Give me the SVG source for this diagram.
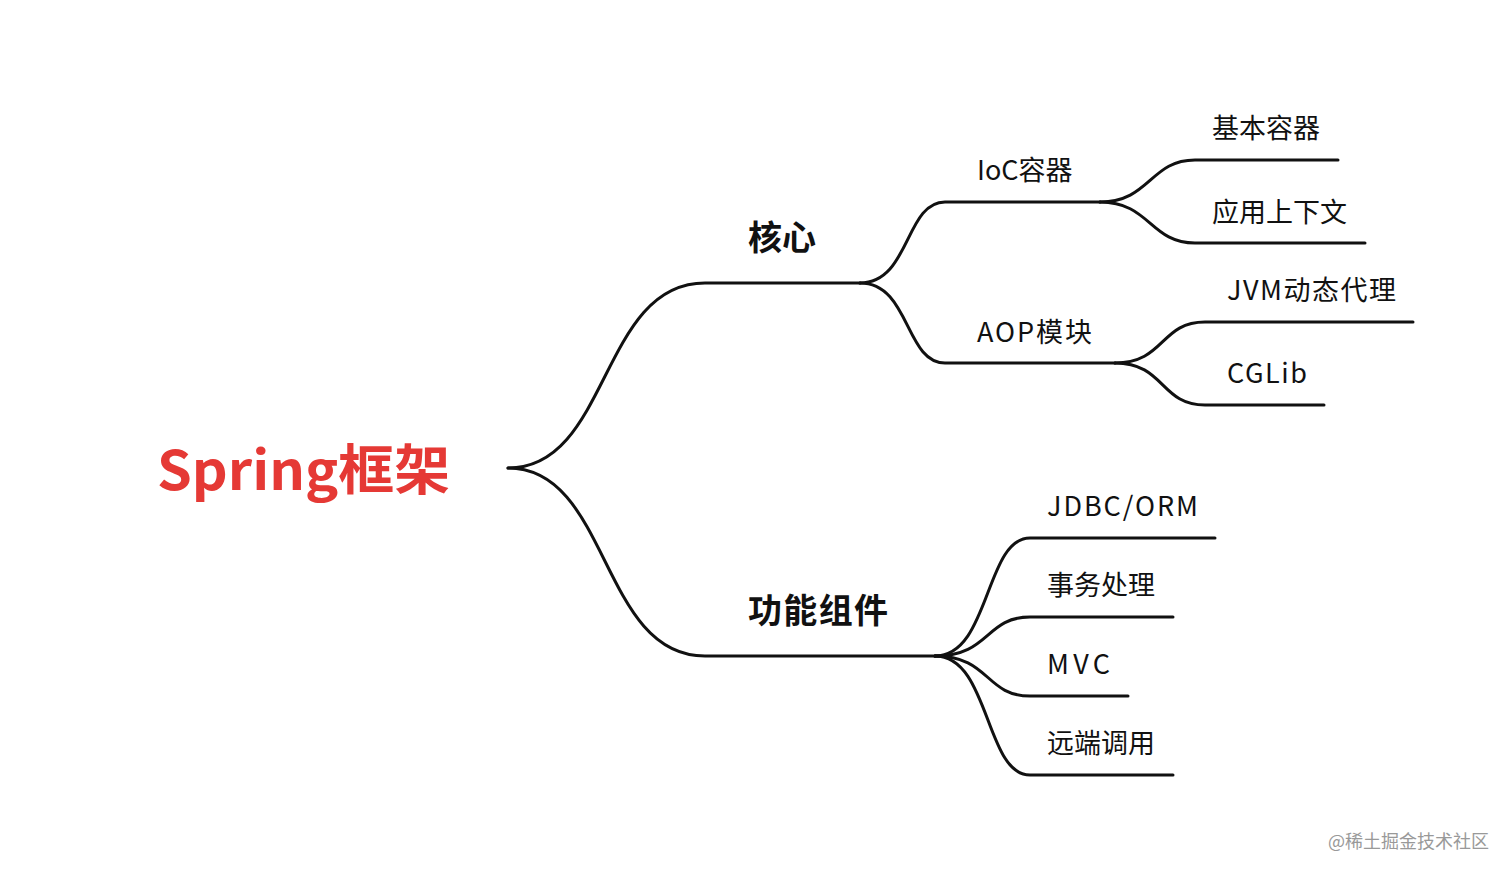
<svg xmlns="http://www.w3.org/2000/svg" width="1512" height="876" viewBox="0 0 1512 876">
<style>
.l{fill:none;stroke:#111;stroke-width:3;stroke-linecap:round}
text{font-family:"Noto Sans CJK SC","Noto Sans",sans-serif;fill:#111}
.t{font-size:27px}
.b{font-size:34px;font-weight:bold}
</style>
<rect width="1512" height="876" fill="#fff"/>
<g id="connectors">
<path class="l" d="M508,468 C610,468 600,283 705,283 L860,283"/>
<path class="l" d="M508,468 C610,468 600,656 705,656 L935,656"/>
<path class="l" d="M860,283 C910,283 905,202 945,202 L1100,202"/>
<path class="l" d="M860,283 C910,283 905,363 945,363 L1115,363"/>
<path class="l" d="M1100,202 C1150,202 1150,160 1195,160 L1338,160"/>
<path class="l" d="M1100,202 C1150,202 1150,243 1195,243 L1365,243"/>
<path class="l" d="M1115,363 C1165,363 1160,322 1205,322 L1413,322"/>
<path class="l" d="M1115,363 C1165,363 1160,405 1205,405 L1324,405"/>
<path class="l" d="M935,656 C990,656 985,538 1030,538 L1215,538"/>
<path class="l" d="M935,656 C990,656 985,617 1030,617 L1173,617"/>
<path class="l" d="M935,656 C990,656 985,696 1030,696 L1128,696"/>
<path class="l" d="M935,656 C990,656 985,775 1030,775 L1173,775"/>
</g>
<g id="root"><text x="157" y="490" textLength="293" lengthAdjust="spacingAndGlyphs" style="font-size:54px;font-weight:bold;fill:#e53935">Spring框架</text></g>
<g id="core"><text class="b" x="748" y="250">核心</text></g>
<g id="func"><text class="b" x="748" y="623" textLength="140">功能组件</text></g>
<g id="ioc"><text class="t" x="977" y="180">IoC容器</text></g>
<g id="aop"><text class="t" x="977" y="342" textLength="115">AOP模块</text></g>
<g id="n1"><text class="t" x="1212" y="138">基本容器</text></g>
<g id="n2"><text class="t" x="1212" y="222">应用上下文</text></g>
<g id="n3"><text class="t" x="1227" y="300" textLength="169">JVM动态代理</text></g>
<g id="n4"><text class="t" x="1227" y="383" textLength="80">CGLib</text></g>
<g id="n5"><text class="t" x="1047" y="516" textLength="151">JDBC/ORM</text></g>
<g id="n6"><text class="t" x="1047" y="595">事务处理</text></g>
<g id="n7"><text class="t" x="1047" y="674" textLength="63">MVC</text></g>
<g id="n8"><text class="t" x="1047" y="753">远端调用</text></g>
<text x="1328" y="848" style="font-size:18px;fill:#999">@稀土掘金技术社区</text>
</svg>
